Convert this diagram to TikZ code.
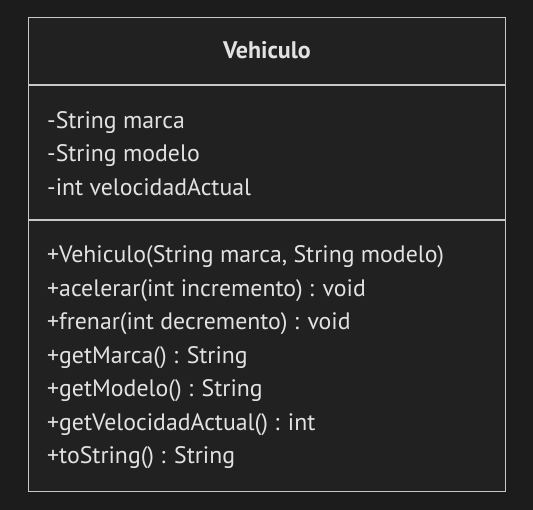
\documentclass[tikz,border=0pt]{standalone}
\usepackage{fontspec}
\setmainfont{PT Sans}
\definecolor{bg}{HTML}{1C1C1C}
\definecolor{boxfill}{HTML}{212121}
\definecolor{edge}{HTML}{C8C8C8}
\definecolor{ink}{HTML}{E2E2E2}
\tikzset{
  member/.style={anchor=base west, inner sep=0pt, text=ink, font=\fontsize{23.8}{27}\selectfont},
  title/.style={anchor=base, inner sep=0pt, text=ink, font=\fontsize{24}{27}\selectfont\bfseries},
  sep/.style={draw=edge, line width=1.3pt}
}
\begin{document}
\begin{tikzpicture}[x=1pt,y=-1pt]
\fill[bg] (0,0) rectangle (533,510);
\useasboundingbox (0,0) rectangle (533,510);
\node[draw=edge, fill=boxfill, line width=1.3pt, minimum width=477pt, minimum height=474pt, anchor=north west, inner sep=0pt] (cls) at (28,17) {};
\coordinate (s1l) at (28,85); \coordinate (s1r) at (505,85);
\coordinate (s2l) at (28,220); \coordinate (s2r) at (505,220);
\draw[sep] (s1l) -- (s1r);
\draw[sep] (s2l) -- (s2r);
\node[title] (t) at (267,59) {Vehiculo};
\node[member] (a1) at (47,128.3) {-String marca};
\node[member] (a2) at (47,162) {-String modelo};
\node[member] (a3) at (47,195.5) {-int velocidadActual};
\node[member] (m1) at (47,262.7) {+Vehiculo(String marca, String modelo)};
\node[member] (m2) at (47,296.3) {+acelerar(int incremento) : void};
\node[member] (m3) at (47,330) {+frenar(int decremento) : void};
\node[member] (m4) at (47,363.5) {+getMarca() : String};
\node[member] (m5) at (47,397) {+getModelo() : String};
\node[member] (m6) at (47,430.7) {+getVelocidadActual() : int};
\node[member] (m7) at (47,464) {+toString() : String};
\end{tikzpicture}
\end{document}
